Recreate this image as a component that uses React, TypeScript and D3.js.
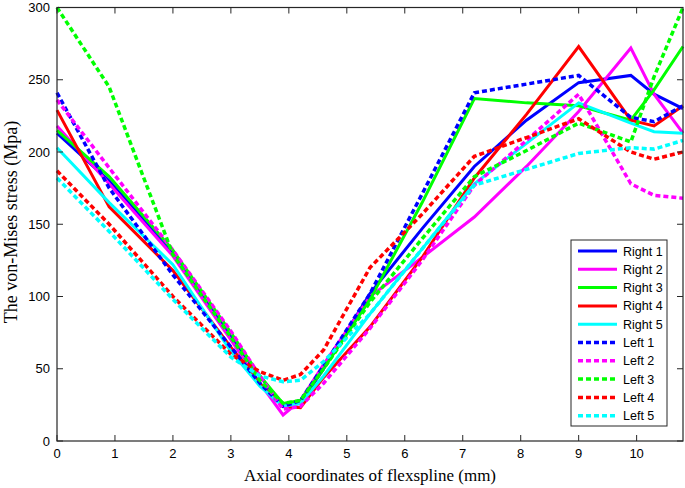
import React, { useEffect, useRef } from 'react';
import * as d3 from 'd3';

// axial positions (mm) shared by every series
const xs = [0, 0.9, 2, 3, 3.5, 3.9, 4.2, 4.6, 5.4, 6.3, 7.2, 8.1, 9, 9.9, 10.3, 10.8];

const right1 = [213, 180, 130, 72, 45, 24, 26, 50, 102, 147, 190, 222, 248, 253, 240, 230];
const right2 = [218, 178, 128, 70, 40, 18, 28, 53, 100, 127, 155, 190, 228, 272, 240, 213];
const right3 = [215, 183, 132, 75, 45, 26, 28, 50, 98, 165, 237, 234, 232, 222, 243, 273];
const right4 = [229, 162, 118, 65, 40, 24, 23, 44, 79, 127, 182, 226, 273, 222, 218, 232];
const right5 = [203, 165, 122, 62, 38, 24, 26, 45, 88, 133, 178, 206, 234, 220, 214, 213];
const left1 = [241, 175, 115, 65, 40, 24, 28, 52, 102, 171, 241, 247, 253, 224, 221, 232];
const left2 = [236, 189, 132, 76, 45, 22, 24, 40, 78, 125, 177, 208, 240, 178, 170, 168];
const left3 = [300, 245, 129, 72, 42, 26, 28, 50, 96, 140, 183, 201, 220, 207, 252, 300];
const left4 = [187, 150, 100, 60, 48, 42, 46, 63, 120, 157, 197, 210, 223, 200, 195, 200];
const left5 = [182, 145, 98, 58, 45, 41, 42, 55, 88, 133, 177, 188, 199, 203, 202, 208];

const names = ['Right 1', 'Right 2', 'Right 3', 'Right 4', 'Right 5', 'Left 1', 'Left 2', 'Left 3', 'Left 4', 'Left 5'];
const colors = ['#0000ff', '#ff00ff', '#00ff00', '#ff0000', '#00ffff'];
const xTicks = [0, 1, 2, 3, 4, 5, 6, 7, 8, 9, 10];
const yTicks = [0, 50, 100, 150, 200, 250, 300];

export default function App() {
  const ref = useRef<SVGSVGElement>(null);

  useEffect(() => {
    document.body.style.margin = '0';
    const svg = d3.select(ref.current);
    svg.selectAll('*').remove();

    const left = 57, right = 683, top = 7.5, bottom = 441;
    const x = d3.scaleLinear().domain([0, 10.8]).range([left, right]);
    const y = d3.scaleLinear().domain([0, 300]).range([bottom, top]);

    const series = [right1, right2, right3, right4, right5, left1, left2, left3, left4, left5];

    const line = d3.line<number>()
      .x((d, i) => x(xs[i]))
      .y(d => y(d));

    const plot = svg.append('g');
    series.forEach((vals, i) => {
      plot.append('path')
        .attr('d', line(vals))
        .attr('fill', 'none')
        .attr('stroke', colors[i % 5])
        .attr('stroke-width', i < 5 ? 3 : 3.5)
        .attr('stroke-dasharray', i < 5 ? null : '5,3')
        .attr('stroke-linejoin', 'miter');
    });

    // frame and ticks (inward, mirrored on top/right)
    const axisColor = '#262626';
    const sans = 'Liberation Sans, Arial, sans-serif';
    const serif = 'Liberation Serif, Times New Roman, serif';
    svg.append('rect')
      .attr('x', left).attr('y', top)
      .attr('width', right - left).attr('height', bottom - top)
      .attr('fill', 'none').attr('stroke', axisColor).attr('stroke-width', 1.2);

    const tk = 6;
    xTicks.forEach(t => {
      svg.append('line').attr('x1', x(t)).attr('x2', x(t)).attr('y1', bottom).attr('y2', bottom - tk)
        .attr('stroke', axisColor);
      svg.append('line').attr('x1', x(t)).attr('x2', x(t)).attr('y1', top).attr('y2', top + tk)
        .attr('stroke', axisColor);
      svg.append('text').attr('x', x(t)).attr('y', bottom + 17)
        .attr('text-anchor', 'middle')
        .attr('font-family', sans).attr('font-size', 13)
        .text(t);
    });
    yTicks.forEach(t => {
      svg.append('line').attr('x1', left).attr('x2', left + tk).attr('y1', y(t)).attr('y2', y(t))
        .attr('stroke', axisColor);
      svg.append('line').attr('x1', right).attr('x2', right - tk).attr('y1', y(t)).attr('y2', y(t))
        .attr('stroke', axisColor);
      svg.append('text').attr('x', left - 7).attr('y', y(t) + 4.5)
        .attr('text-anchor', 'end')
        .attr('font-family', sans).attr('font-size', 13)
        .text(t);
    });

    svg.append('text')
      .attr('x', (left + right) / 2).attr('y', 481)
      .attr('text-anchor', 'middle')
      .attr('font-family', serif).attr('font-size', 17)
      .text('Axial coordinates of flexspline (mm)');

    svg.append('text')
      .attr('transform', `translate(17,${222}) rotate(-90)`)
      .attr('text-anchor', 'middle')
      .attr('font-family', serif).attr('font-size', 18)
      .text('The von-Mises stress (Mpa)');

    // legend
    const lg = svg.append('g');
    lg.append('rect')
      .attr('x', 571).attr('y', 240).attr('width', 96).attr('height', 186)
      .attr('fill', '#fff').attr('stroke', axisColor).attr('stroke-width', 1);
    names.forEach((n, i) => {
      const yy = 251 + i * 18.3;
      lg.append('line')
        .attr('x1', 578).attr('x2', 617).attr('y1', yy).attr('y2', yy)
        .attr('stroke', colors[i % 5])
        .attr('stroke-width', i < 5 ? 3 : 3.5)
        .attr('stroke-dasharray', i < 5 ? null : '5,3');
      lg.append('text')
        .attr('x', 623).attr('y', yy + 4.5)
        .attr('font-family', sans).attr('font-size', 12.5)
        .text(n);
    });
  }, []);

  return <svg ref={ref} width={685} height={488} style={{ display: 'block', background: '#fff' }} />;
}
